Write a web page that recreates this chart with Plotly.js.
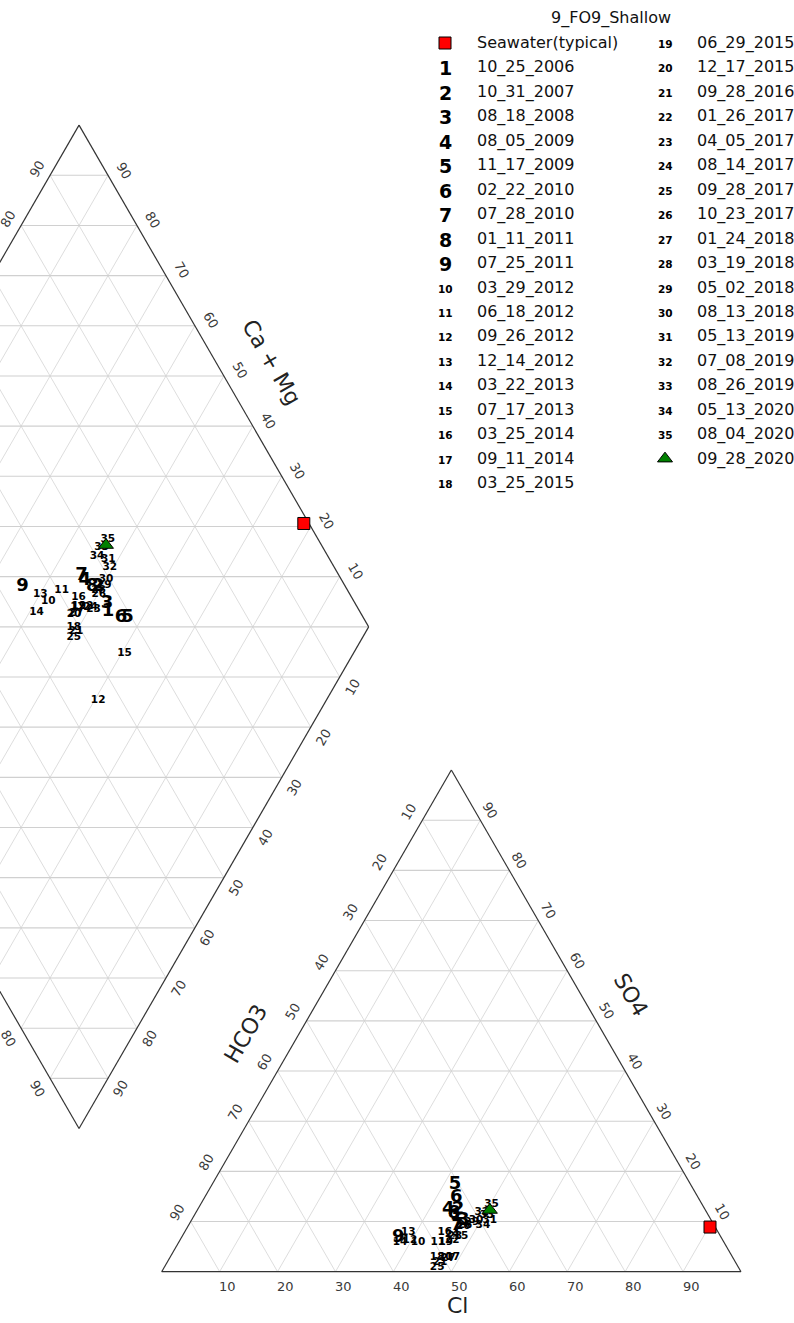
<!DOCTYPE html>
<html><head><meta charset="utf-8">
<script src="https://cdn.plot.ly/plotly-3.0.1.min.js"></script>
<style>html,body{margin:0;padding:0;background:#fff}#chart{width:794px;height:1323px}</style>
</head><body><div id="chart"></div>
<script>
// ---------------- DATA ----------------
const chartTitle = '9_FO9_Shallow';
const sampleDates = ['10_25_2006','10_31_2007','08_18_2008','08_05_2009','11_17_2009','02_22_2010','07_28_2010',
  '01_11_2011','07_25_2011','03_29_2012','06_18_2012','09_26_2012','12_14_2012','03_22_2013','07_17_2013',
  '03_25_2014','09_11_2014','03_25_2015','06_29_2015','12_17_2015','09_28_2016','01_26_2017','04_05_2017',
  '08_14_2017','09_28_2017','10_23_2017','01_24_2018','03_19_2018','05_02_2018','08_13_2018','05_13_2019',
  '07_08_2019','08_26_2019','05_13_2020','08_04_2020','09_28_2020'];
// marker labels (last sample is drawn as a green triangle)
const sampleMarks = ['1','2','3','4','5','6','7','8','9','10','11','12','13','14','15','16','17','18','19','20',
  '21','22','23','24','25','26','27','28','29','30','31','32','33','34','35','TRI'];
// anion percentages (meq %)
const clPct  = [45.4,45.0,46.9,43.3,42.0,43.5,46.3,44.6,37.4,41.3,44.7,39.7,38.6,38.2,48.1,44.9,48.8,46.1,
  46.1,47.5,47.1,47.0,47.1,46.4,47.1,47.5,48.1,47.7,48.6,49.1,51.5,49.3,50.5,50.8,50.2,50.5];
const so4Pct = [11.1,12.3,10.3,12.3,17.3,14.7,9.3,11.7,6.9,5.9,5.9,6.3,7.9,5.9,7.1,7.9,2.9,2.9,
  5.9,2.9,1.9,6.3,7.1,7.5,0.9,9.1,2.7,9.3,9.9,10.3,10.3,11.9,11.3,9.3,13.5,12.3];
// cation percentage Ca + Mg (meq %)
const caMgPct = [46.5,50.8,47.5,53.6,42.6,43.7,54.7,51.7,63.8,57.8,56.6,39.4,59.9,58.8,39.5,53.0,52.2,50.8,
  52.1,52.1,50.0,50.8,49.2,49.9,49.8,49.8,51.8,50.3,49.8,50.1,51.7,50.6,54.0,53.9,53.8,53.5];
// typical seawater
const seaCl = 90.2, seaSO4 = 8.9, seaCaMg = 21.5;
const seaLabel = 'Seawater(typical)';
const tickVals = [10,20,30,40,50,60,70,80,90];

// ---------------- GEOMETRY ----------------
const PX = 5.793, X0 = 161.7, Y0 = 1271.7, W = 794, Hh = 1323;
const R3 = Math.sqrt(3);
const GAP = 28.54;
const TH = 50 * R3;
const B = [-GAP / 2, GAP / 2 * R3];
function anionXY(cl, so4) { return [cl + so4 / 2, so4 * R3 / 2]; }
function diamondXY(a, c) { return [B[0] + 50 * (a - c), B[1] + TH * (a + c)]; }
function pxX(p) { return p / W; }
function pxY(p) { return 1 - p / Hh; }

const traces = [];
function segTrace(segs, color, width) {
  const x = [], y = [];
  segs.forEach(s => { x.push(s[0][0], s[1][0], null); y.push(s[0][1], s[1][1], null); });
  return {type: 'scatter', mode: 'lines', x, y, line: {color, width}, hoverinfo: 'skip', showlegend: false};
}

// grid
const gridDiag = [], gridHor = [];
tickVals.forEach(k => {
  gridHor.push([anionXY(0, k), anionXY(100 - k, k)]);
  gridDiag.push([anionXY(k, 0), anionXY(k, 100 - k)]);
  gridDiag.push([anionXY(100 - k, 0), anionXY(0, 100 - k)]);
  const f = k / 100;
  gridDiag.push([diamondXY(f, 0), diamondXY(f, 1)]);
  gridDiag.push([diamondXY(0, f), diamondXY(1, f)]);
});
for (let s = 1; s <= 19; s++) {
  const f = s / 10;
  if (f <= 1) gridHor.push([diamondXY(f, 0), diamondXY(0, f)]);
  else gridHor.push([diamondXY(1, f - 1), diamondXY(f - 1, 1)]);
}
traces.push(segTrace(gridDiag, '#d4d4d4', 0.8));
traces.push(segTrace(gridHor, '#d0d0d0', 1.1));

// outlines
const outline = [
  [anionXY(0, 0), anionXY(100, 0)], [anionXY(100, 0), anionXY(0, 100)], [anionXY(0, 100), anionXY(0, 0)],
  [diamondXY(0, 0), diamondXY(1, 0)], [diamondXY(1, 0), diamondXY(1, 1)],
  [diamondXY(1, 1), diamondXY(0, 1)], [diamondXY(0, 1), diamondXY(0, 0)]
];
traces.push(segTrace(outline, '#333333', 1.2));

// sample number labels
const numIdx = sampleMarks.map((m, i) => i).filter(i => sampleMarks[i] !== 'TRI');
const triIdx = sampleMarks.map((m, i) => i).filter(i => sampleMarks[i] === 'TRI');
function labelTrace(pos, idxs) {
  return {type: 'scatter', mode: 'text',
    x: idxs.map(i => pos(i)[0]), y: idxs.map(i => pos(i)[1]),
    text: idxs.map(i => sampleMarks[i]),
    textposition: 'middle center',
    textfont: {family: 'DejaVu Sans', color: '#000', weight: 'bold',
      size: idxs.map(i => sampleMarks[i].length === 1 ? 18 : 10.5)},
    hovertext: idxs.map(i => sampleDates[i]), hoverinfo: 'text', showlegend: false, cliponaxis: false};
}
const aPos = i => anionXY(clPct[i], so4Pct[i]);
const dPos = i => diamondXY((clPct[i] + so4Pct[i]) / 100, caMgPct[i] / 100);
traces.push(labelTrace(dPos, numIdx));
traces.push(labelTrace(aPos, numIdx));
// triangle samples
const triPts = [];
triIdx.forEach(i => { triPts.push(dPos(i)); triPts.push(aPos(i)); });
traces.push({type: 'scatter', mode: 'markers', x: triPts.map(p => p[0]), y: triPts.map(p => p[1]),
  marker: {symbol: 'triangle-up', size: 13, color: '#008000', line: {color: '#000', width: 1}},
  hoverinfo: 'skip', showlegend: false});
// seawater
const swA = anionXY(seaCl, seaSO4), swD = diamondXY((seaCl + seaSO4) / 100, seaCaMg / 100);
traces.push({type: 'scatter', mode: 'markers', x: [swD[0], swA[0]], y: [swD[1], swA[1]],
  marker: {symbol: 'square', size: 12, color: '#ff0000', line: {color: '#000', width: 1}},
  hoverinfo: 'skip', showlegend: false, cliponaxis: false});

// ---------------- ANNOTATIONS ----------------
const ann = [];
const tickFont = {family: 'DejaVu Sans', size: 13, color: '#3a3a3a'};
function tickAnn(p, txt, xs, ys, ang) {
  ann.push({x: p[0], y: p[1], xref: 'x', yref: 'y', text: String(txt), showarrow: false,
    xanchor: 'center', yanchor: 'middle', xshift: xs, yshift: ys, textangle: ang, font: tickFont});
}
tickVals.forEach(k => {
  const f = k / 100;
  tickAnn(anionXY(k, 0), k, 8, -15, 0);                 // Cl
  tickAnn(anionXY(100 - k, k), k, 10, 10, 60);          // SO4
  tickAnn(anionXY(0, 100 - k), k, -13.5, 9, -60);       // HCO3
  tickAnn(diamondXY(1, f), k, 16, 5, 60);               // Ca+Mg (upper right)
  tickAnn(diamondXY(1 - f, 0), k, 12.5, -10, -60);      // lower right
  tickAnn(diamondXY(f, 1), k, -12.5, 6.5, -60);         // upper left
  tickAnn(diamondXY(0, 1 - f), k, -12.8, -10.4, 60);    // lower left
});
const titleFont = {family: 'DejaVu Sans', size: 22, color: '#222'};
function pAnn(px, py, txt, font, ang, xa) {
  ann.push({x: pxX(px), y: pxY(py), xref: 'paper', yref: 'paper', text: txt, showarrow: false,
    xanchor: xa || 'center', yanchor: 'middle', textangle: ang || 0, font});
}
pAnn(272, 362, 'Ca + Mg', titleFont, 60);
pAnn(631, 994, 'SO4', titleFont, 60);
pAnn(245, 1034, 'HCO3', titleFont, -60);
pAnn(457, 1305, 'Cl', titleFont, 0);

// legend
const legFont = {family: 'DejaVu Sans', size: 16, color: '#111'};
pAnn(611, 18, chartTitle, legFont, 0);
const rowY0 = 43, rowDy = 24.45;
const legItems = [{mark: 'SQ', text: seaLabel}].concat(sampleMarks.map((m, i) => ({mark: m, text: sampleDates[i]})));
const perCol = 19;
const legSymPts = {SQ: [], TRI: []};
legItems.forEach((it, j) => {
  const col = j < perCol ? 0 : 1;
  const row = col === 0 ? j : j - perCol;
  const sx = col === 0 ? 445 : 665, tx = col === 0 ? 475 : 695;
  const py = rowY0 + row * rowDy;
  if (it.mark === 'SQ' || it.mark === 'TRI') legSymPts[it.mark].push([sx, py]);
  else pAnn(sx, py + 1, '<b>' + it.mark + '</b>',
    {family: 'DejaVu Sans', size: it.mark.length === 1 ? 19 : 10.5, color: '#000'}, 0);
  pAnn(tx, py, it.text, legFont, 0, 'left');
});
const toData = p => [(p[0] - X0) / PX, (Y0 - p[1]) / PX];
traces.push({type: 'scatter', mode: 'markers', x: legSymPts.SQ.map(p => toData(p)[0]), y: legSymPts.SQ.map(p => toData(p)[1]),
  marker: {symbol: 'square', size: 12, color: '#ff0000', line: {color: '#000', width: 1}}, hoverinfo: 'skip', showlegend: false, cliponaxis: false});
traces.push({type: 'scatter', mode: 'markers', x: legSymPts.TRI.map(p => toData(p)[0]), y: legSymPts.TRI.map(p => toData(p)[1]),
  marker: {symbol: 'triangle-up', size: 13, color: '#008000', line: {color: '#000', width: 1}}, hoverinfo: 'skip', showlegend: false, cliponaxis: false});

const layout = {
  width: W, height: Hh, margin: {l: 0, r: 0, t: 0, b: 0},
  paper_bgcolor: '#fff', plot_bgcolor: '#fff', showlegend: false,
  xaxis: {range: [-X0 / PX, (W - X0) / PX], visible: false, fixedrange: true},
  yaxis: {range: [(Y0 - Hh) / PX, Y0 / PX], visible: false, fixedrange: true},
  annotations: ann
};
Plotly.newPlot('chart', traces, layout, {staticPlot: true});
</script></body></html>
